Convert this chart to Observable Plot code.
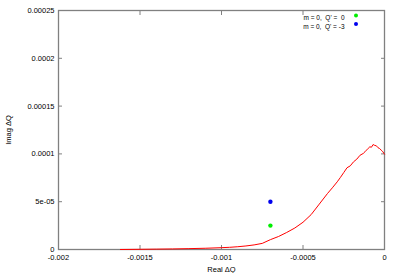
<!DOCTYPE html>
<html>
<head>
<meta charset="utf-8">
<script src="https://cdn.jsdelivr.net/npm/d3@7"></script>
<script src="https://cdn.jsdelivr.net/npm/@observablehq/plot@0.6"></script>
<style>
  html, body { margin: 0; padding: 0; background: #fff; }
  svg { font-family: "Liberation Sans", Arial, sans-serif; }
</style>
</head>
<body>
<div id="chart"></div>
<script>
// Curve: Real ΔQ vs Imag ΔQ (red line)
const curveReal = [-0.00162, -0.0015, -0.0014, -0.0013, -0.0012, -0.0011, -0.001, -0.00095, -0.0009, -0.00085,
  -0.0008, -0.00075, -0.0007, -0.00065, -0.0006, -0.00055, -0.0005, -0.00045, -0.0004, -0.00035,
  -0.00032, -0.00029, -0.00027, -0.00025, -0.00023, -0.00021, -0.00019, -0.00017, -0.00015, -0.00013,
  -0.00012, -0.00011, -0.0001, -0.00009, -0.00008, -0.00007, -0.00006, -0.00005, -0.00004, -0.00003,
  -0.00002, -0.00001, 0];
const curveImag = [0, 0.2e-6, 0.4e-6, 0.6e-6, 0.9e-6, 1.3e-6, 1.9e-6, 2.3e-6, 2.9e-6, 3.7e-6,
  4.8e-6, 6.4e-6, 10.3e-6, 13.6e-6, 17.8e-6, 22.5e-6, 28.5e-6, 36.5e-6, 47.5e-6, 58.5e-6,
  64.5e-6, 70.8e-6, 75.5e-6, 80.5e-6, 85.5e-6, 87.5e-6, 91.7e-6, 94.5e-6, 98.6e-6, 100.5e-6,
  102.2e-6, 104.0e-6, 105.8e-6, 107.4e-6, 107.0e-6, 109.8e-6, 108.9e-6, 108.5e-6, 106.5e-6, 105.6e-6,
  103.9e-6, 102.2e-6, 99.7e-6];

// Points
const pointLabels = ["m = 0,  Q' =  0", "m = 0,  Q' = -3"];
const pointReal = [-0.0007, -0.0007];
const pointImag = [2.5e-5, 5e-5];
const pointColors = ["#00ee00", "#0000ee"];

// Ticks
const xTicks = [-0.002, -0.0015, -0.001, -0.0005, 0];
const xTickLabels = ["-0.002", "-0.0015", "-0.001", "-0.0005", "0"];
const yTicks = [0, 5e-5, 1e-4, 1.5e-4, 2e-4, 2.5e-4];
const yTickLabels = ["0", "5e-05", "0.0001", "0.00015", "0.0002", "0.00025"];

const curve = curveReal.map((x, i) => ({x, y: curveImag[i]}));
const points = pointReal.map((x, i) => ({x, y: pointImag[i], label: pointLabels[i], color: pointColors[i], row: i}));

const fx = d => xTickLabels[xTicks.indexOf(d)] ?? "";
const fy = d => yTickLabels[yTicks.indexOf(d)] ?? "";
const blank = () => "";
const axisColor = "#808080";

// legend entries: one text + one dot per row, anchored at the frame's top-right
const legendMarks = points.flatMap((p, i) => [
  Plot.text([p], {text: "label", frameAnchor: "top-right", dx: -40, dy: 5 + i * 8.5, textAnchor: "end", fontSize: 6.5, fill: "black"}),
  Plot.dot([p], {frameAnchor: "top-right", dx: -28.5, dy: 5 + i * 8.5, fill: "color", r: 2})
]);

const chart = Plot.plot({
  width: 398,
  height: 273,
  marginLeft: 58,
  marginRight: 14,
  marginTop: 10,
  marginBottom: 24,
  style: {fontFamily: "'Liberation Sans', Arial, sans-serif", fontSize: "7.5px", background: "#fff", color: "#000"},
  x: {domain: [-0.002, 0]},
  y: {domain: [0, 0.00025]},
  marks: [
    // inward tick marks (mirrored on all sides)
    Plot.axisX({ticks: xTicks, anchor: "bottom", tickSize: 4, dy: -4, tickFormat: blank, stroke: axisColor, label: null}),
    Plot.axisX({ticks: xTicks, anchor: "top", tickSize: 4, dy: 4, tickFormat: blank, stroke: axisColor, label: null}),
    Plot.axisY({ticks: yTicks, anchor: "left", tickSize: 4, dx: 4, tickFormat: blank, stroke: axisColor, label: null}),
    Plot.axisY({ticks: yTicks, anchor: "right", tickSize: 4, dx: -4, tickFormat: blank, stroke: axisColor, label: null}),
    // tick labels
    Plot.axisX({ticks: xTicks, anchor: "bottom", tickSize: 0, tickPadding: 5, tickFormat: fx, fontSize: 7.5,
      label: "Real ΔQ", labelAnchor: "center", labelArrow: "none", labelOffset: 22}),
    Plot.axisY({ticks: yTicks, anchor: "left", tickSize: 0, tickPadding: 4, tickFormat: fy, fontSize: 7.5,
      label: "Imag ΔQ", labelAnchor: "center", labelArrow: "none", labelOffset: 53}),
    Plot.frame({stroke: axisColor, strokeWidth: 1.3}),
    Plot.line(curve, {x: "x", y: "y", stroke: "#ff0000", strokeWidth: 1}),
    Plot.dot(points, {x: "x", y: "y", fill: "color", r: 2.2}),
    ...legendMarks
  ]
});
document.getElementById("chart").appendChild(chart);
</script>
</body>
</html>
